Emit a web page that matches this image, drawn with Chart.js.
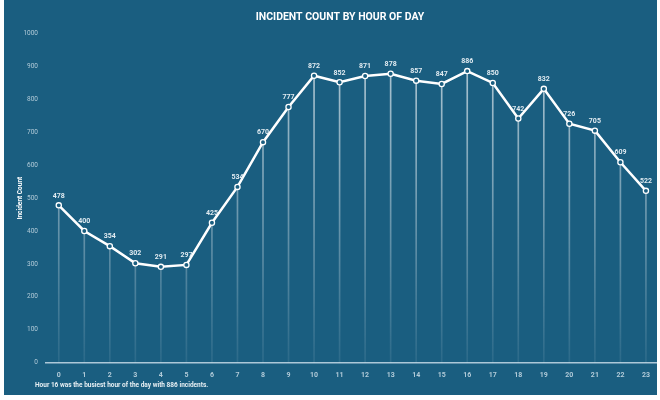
<!DOCTYPE html>
<html>
<head>
<meta charset="utf-8">
<script src="https://cdn.jsdelivr.net/npm/chart.js@4.4.1/dist/chart.umd.min.js"></script>
<style>
  html, body { margin: 0; padding: 0; background: #ffffff; }
  #panel {
    position: absolute; left: 4px; top: 0; width: 653px; height: 395px;
    background: #1a5e80; overflow: hidden;
  }
  canvas { display: block; }
</style>
</head>
<body>
<div id="panel"><canvas id="chart" width="660" height="395"></canvas></div>
<script>
// Hourly incident totals
const hours = ['0','1','2','3','4','5','6','7','8','9','10','11','12','13','14','15','16','17','18','19','20','21','22','23'];
const incidents = [478, 400, 354, 302, 291, 297, 425, 534, 670, 777, 872, 852, 871, 878, 857, 847, 886, 850, 742, 832, 726, 705, 609, 522];
const yTicks = [0, 100, 200, 300, 400, 500, 600, 700, 800, 900, 1000];
const chartTitle = 'INCIDENT COUNT BY HOUR OF DAY';
const yTitle = 'Incident Count';
const footNote = 'Hour 16 was the busiest hour of the day with 886 incidents.';

const FONT = 'Roboto, "Liberation Sans", sans-serif';
const tickColor = 'rgba(205,222,232,0.85)';

// Value labels above each point
const valueLabels = {
  id: 'valueLabels',
  afterDatasetsDraw(chart) {
    const meta = chart.getDatasetMeta(0);
    const ctx = chart.ctx;
    ctx.save();
    ctx.font = 'bold 7px ' + FONT;
    ctx.fillStyle = 'rgba(235,242,247,0.95)';
    ctx.textAlign = 'center';
    ctx.textBaseline = 'bottom';
    meta.data.forEach((pt, i) => {
      ctx.fillText(String(incidents[i]), pt.x, pt.y - 6);
    });
    ctx.restore();
  }
};

// Note under the x axis
const footNotePlugin = {
  id: 'footNote',
  afterDraw(chart) {
    const ctx = chart.ctx;
    ctx.save();
    ctx.font = 'bold 6.5px ' + FONT;
    ctx.fillStyle = 'rgba(240,245,248,0.95)';
    ctx.textAlign = 'left';
    ctx.textBaseline = 'middle';
    ctx.fillText(footNote, 31, 385);
    ctx.restore();
  }
};

function dropGradient(context) {
  const area = context.chart.chartArea;
  if (!area) return 'rgba(255,255,255,0.4)';
  const g = context.chart.ctx.createLinearGradient(0, area.top, 0, area.bottom);
  g.addColorStop(0, 'rgba(255,255,255,0.7)');
  g.addColorStop(1, 'rgba(255,255,255,0.08)');
  return g;
}

new Chart(document.getElementById('chart'), {
  type: 'bar',
  data: {
    labels: hours,
    datasets: [
      {
        type: 'line',
        data: incidents,
        order: 0,
        borderColor: '#ffffff',
        borderWidth: 2.5,
        tension: 0,
        pointRadius: 2.6,
        pointBorderWidth: 1.3,
        pointBorderColor: '#ffffff',
        pointBackgroundColor: '#1a5e80'
      },
      {
        type: 'bar',
        data: incidents,
        order: 1,
        barThickness: 1,
        backgroundColor: dropGradient,
        borderWidth: 0
      }
    ]
  },
  options: {
    responsive: false,
    animation: false,
    layout: { padding: { left: 12, right: 0, top: 0, bottom: 8 } },
    plugins: {
      legend: { display: false },
      tooltip: { enabled: false },
      title: {
        display: true,
        text: chartTitle,
        color: '#ffffff',
        font: { family: FONT, size: 10.5, weight: 'bold' },
        padding: { top: 11, bottom: 10 }
      }
    },
    scales: {
      x: {
        offset: true,
        grid: { display: false, drawTicks: false },
        border: { display: true, color: 'rgba(190,212,225,0.9)', width: 1.5 },
        ticks: { color: tickColor, font: { family: FONT, size: 7, weight: 'bold' }, padding: 8 }
      },
      y: {
        min: 0, max: 1000,
        afterBuildTicks(scale) { scale.ticks = yTicks.map(v => ({ value: v })); },
        afterFit(scale) { scale.width = 30; },
        grid: { display: false, drawTicks: false },
        border: { display: false },
        ticks: {
          color: tickColor, font: { family: FONT, size: 6.5 }, padding: 8,
          callback: v => String(v)
        },
        title: {
          display: true, text: yTitle, color: '#ffffff',
          font: { family: FONT, size: 6.5, weight: 'bold' }, padding: { top: 0, bottom: 0 }
        }
      }
    }
  },
  plugins: [valueLabels, footNotePlugin]
});
</script>
</body>
</html>
